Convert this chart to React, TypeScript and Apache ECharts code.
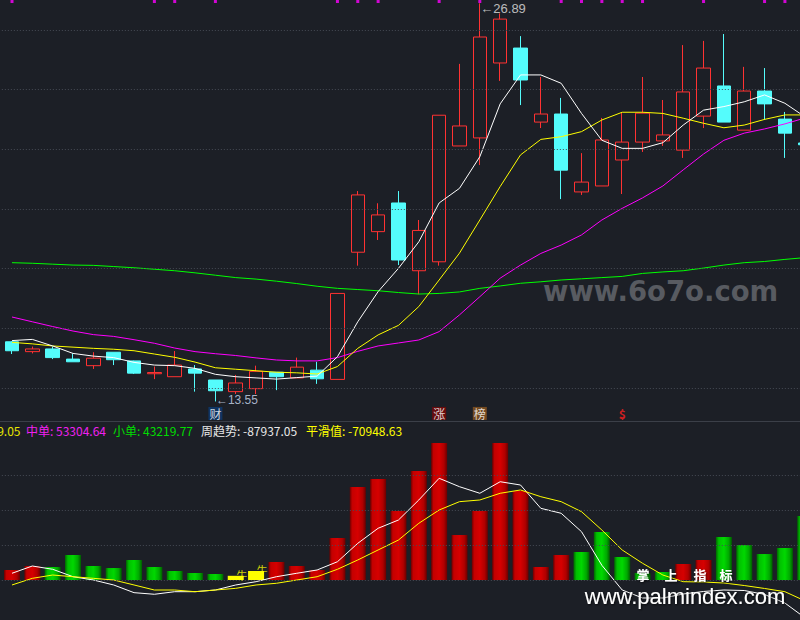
import React, { useEffect, useRef } from 'react';
import * as echarts from 'echarts';

const categories = ['01','02','03','04','05','06','07','08','09','10','11','12','13','14','15','16','17','18','19','20','21','22','23','24','25','26','27','28','29','30','31','32','33','34','35','36','37','38','39','40'];

// [open, close, low, high]
const ohlc = [
  [15.55, 15.25, 15.14, 15.57], [15.22, 15.31, 15.16, 15.39], [15.31, 15.02, 14.97, 15.39], [14.97, 14.88, 14.88, 15.16],
  [14.75, 15.00, 14.64, 15.20], [15.20, 14.95, 14.77, 15.20], [14.91, 14.50, 14.47, 14.92], [14.48, 14.52, 14.30, 14.72],
  [14.38, 14.77, 14.38, 15.24], [14.64, 14.50, 13.88, 14.77], [14.27, 13.91, 13.55, 14.27], [13.88, 14.17, 13.80, 14.44],
  [13.98, 14.56, 13.80, 14.75], [14.53, 14.38, 13.93, 14.53], [14.34, 14.70, 14.34, 15.02], [14.60, 14.31, 14.14, 14.88],
  [14.29, 17.17, 14.29, 17.17], [18.55, 20.47, 18.10, 20.60], [19.24, 19.80, 18.96, 20.19], [20.20, 18.29, 18.12, 20.60],
  [17.93, 19.28, 17.14, 19.63], [18.23, 23.14, 18.10, 23.14], [22.11, 22.78, 22.11, 24.86], [22.38, 25.76, 21.47, 26.89],
  [24.89, 26.36, 24.29, 26.55], [25.39, 24.32, 23.48, 25.79], [22.91, 23.18, 22.71, 24.42], [23.18, 21.30, 20.33, 23.72],
  [20.57, 20.90, 20.47, 21.87], [20.77, 22.31, 20.77, 23.05], [21.64, 22.24, 20.50, 23.25], [22.24, 23.21, 21.91, 24.42],
  [22.28, 22.48, 22.11, 23.65], [21.97, 23.92, 21.71, 25.49], [23.11, 24.72, 22.71, 25.63], [24.12, 22.91, 22.91, 25.86],
  [22.64, 23.95, 22.64, 24.76], [23.95, 23.52, 22.98, 24.72], [23.01, 22.54, 21.71, 23.25], [22.21, 22.15, 22.00, 22.30],
];

const ma5 = [15.59, 15.63, 15.41, 15.16, 15.07, 15.02, 14.86, 14.77, 14.75, 14.66, 14.46, 14.38, 14.34, 14.30, 14.35, 14.40, 15.05, 16.22, 17.23, 18.01, 18.90, 20.20, 20.69, 21.75, 23.52, 24.49, 24.49, 24.21, 23.20, 22.30, 22.03, 22.03, 22.22, 22.81, 23.31, 23.43, 23.59, 23.82, 23.54, 23.08];
const ma10 = [15.53, 15.48, 15.41, 15.37, 15.33, 15.30, 15.25, 15.14, 15.03, 14.87, 14.68, 14.63, 14.58, 14.53, 14.51, 14.47, 14.72, 15.33, 15.78, 16.10, 16.73, 17.62, 18.52, 19.63, 20.75, 21.81, 22.33, 22.42, 22.59, 22.98, 23.24, 23.24, 23.20, 23.04, 22.87, 22.72, 22.81, 23.00, 23.15, 23.15];
const ma20 = [16.38, 16.22, 16.06, 15.91, 15.79, 15.73, 15.62, 15.50, 15.34, 15.22, 15.15, 15.09, 15.01, 14.94, 14.91, 14.91, 15.02, 15.23, 15.41, 15.51, 15.61, 15.89, 16.45, 17.06, 17.68, 18.12, 18.51, 18.79, 19.13, 19.63, 20.02, 20.37, 20.77, 21.31, 21.84, 22.30, 22.54, 22.68, 22.85, 23.05];
const ma60 = [18.20, 18.18, 18.15, 18.12, 18.11, 18.07, 18.03, 17.98, 17.93, 17.86, 17.78, 17.70, 17.65, 17.58, 17.50, 17.41, 17.34, 17.30, 17.26, 17.20, 17.15, 17.17, 17.22, 17.34, 17.42, 17.51, 17.56, 17.62, 17.66, 17.70, 17.74, 17.84, 17.89, 17.93, 18.02, 18.12, 18.20, 18.24, 18.31, 18.37];

// lower panel (unit: 万)
const flowBars = [1.43, 2.0, 1.86, 3.57, 2.0, 1.71, 2.86, 1.86, 1.29, 1.0, 0.86, 0.6, 1.29, 2.57, 2.0, 1.43, 6.0, 13.29, 14.43, 9.86, 15.57, 19.57, 6.43, 9.86, 19.57, 12.71, 1.86, 3.57, 4.0, 6.86, 3.29, 1.0, 1.14, 2.29, 2.86, 6.14, 5.0, 3.71, 4.57, 9.14];
const flowKinds = ['r','r','g','g','g','g','g','g','g','g','g','y','y','r','r','r','r','r','r','r','r','r','r','r','r','r','r','r','g','g','g','g','g','r','r','g','g','g','g','g'];
const weekTrend = [0.96, 2.0, 1.53, 0.47, 0, -0.71, -1.81, -2.04, -1.67, -1.67, -1.43, -0.71, -0.24, 0.47, 0.96, 1.43, 2.61, 5.24, 7.39, 8.57, 11.43, 14.53, 13.33, 12.39, 14.04, 13.57, 10.24, 9.53, 6.90, 2.10, -1.43, -2.57, -2.57, -2.0, -1.64, -1.43, -1.5, -2.07, -3.29, -5.43];
const smoothVal = [-0.71, 0.24, 0.71, 0.47, 0.24, 0, -0.71, -1.43, -1.43, -1.67, -1.43, -1.19, -0.71, -0.47, 0, 0.47, 1.53, 2.86, 4.29, 5.71, 8.1, 10.0, 11.19, 11.43, 12.39, 12.86, 11.9, 11.19, 9.76, 7.14, 4.29, 2.39, 0.71, -0.24, -0.29, -0.43, -0.79, -1.21, -1.67, -3.0];

const topSignalDays = [0, 7, 8, 10, 16, 17, 18, 21, 23, 27, 28, 29, 30, 31, 34, 37, 38];
const priceGridLevels = [14, 16, 18, 20, 22, 24, 26];
const flowGridLevels = [0, 5, 10, 15];
const tagDays = [10, 21, 23, 30];
const tagTexts = ['财', '涨', '榜', '$'];
const tagBgs = ['#0c3a72', '#7a0808', '#8a5520', 'transparent'];
const tagColors = ['#ffffff', '#ffffff', '#ffffff', '#ff2020'];
const tagLevel = 13.15;
const bullDays = [11, 12];
const bullLevels = [0.71, 1.43];
const extremes = [[23, 26.89], [10, 13.55]];

const legendItems = [
  { text: '大单: 64229.05', color: '#e6e600', x: 20.5, align: 'right' },
  { text: '中单: 53304.64', color: '#f020f0', x: 26, align: 'left' },
  { text: '小单: 43219.77', color: '#00dd00', x: 113, align: 'left' },
  { text: '周趋势: -87937.05', color: '#e8e8e8', x: 201, align: 'left' },
  { text: '平滑值: -70948.63', color: '#ffff00', x: 306, align: 'left' },
];

const CJK = '"Noto Sans CJK SC", "Noto Sans", sans-serif';

function grad(stops: [number, string][]) {
  return new echarts.graphic.LinearGradient(0, 0, 1, 0, stops.map(([offset, color]) => ({ offset, color })));
}

export default function App() {
  const ref = useRef<HTMLDivElement>(null);
  useEffect(() => {
    if (!ref.current) return;
    const chart = echarts.init(ref.current, undefined, { renderer: 'svg' });
    const fills: Record<string, any> = {
      r: grad([[0, '#6a0000'], [0.15, '#c40000'], [0.5, '#d60000'], [0.8, '#b00000'], [1, '#6a0000']]),
      g: grad([[0, '#006800'], [0.18, '#00c000'], [0.5, '#00d800'], [0.8, '#00a800'], [1, '#005c00']]),
      y: '#ffff00',
    };
    const dotted = { type: [1, 2] as any, color: '#474b55', width: 1 };
    const xBase = { type: 'category' as const, data: categories, boundaryGap: true, show: false };
    const option: any = {
      animation: false,
      backgroundColor: '#1c1f26',
      grid: [
        { left: 1.83, width: 813.6, top: 0, height: 417.9, outerBoundsMode: 'none', containLabel: false },
        { left: 1.83, width: 813.6, top: 440, height: 210, outerBoundsMode: 'none', containLabel: false },
      ],
      xAxis: [
        { ...xBase, gridIndex: 0 },
        { ...xBase, gridIndex: 1 },
      ],
      yAxis: [
        { type: 'value', gridIndex: 0, min: 13, max: 27, show: false, splitLine: { show: false } },
        { type: 'value', gridIndex: 1, min: -10, max: 20, show: false, splitLine: { show: false } },
      ],
      series: [
        {
          type: 'candlestick', xAxisIndex: 0, yAxisIndex: 0, data: ohlc, barWidth: 14, z: 2,
          itemStyle: { color: 'transparent', color0: '#54fcfc', borderColor: '#ff3232', borderColor0: '#54fcfc', borderWidth: 1 },
          markLine: {
            silent: true, symbol: ['none', 'none'], label: { show: false }, lineStyle: dotted,
            data: priceGridLevels.map((v) => ({ yAxis: v })),
          },
        },
        { type: 'line', xAxisIndex: 0, yAxisIndex: 0, data: ma60, symbol: 'none', z: 3, lineStyle: { color: '#00ff00', width: 1 } },
        { type: 'line', xAxisIndex: 0, yAxisIndex: 0, data: ma20, symbol: 'none', z: 3, lineStyle: { color: '#ff00ff', width: 1 } },
        { type: 'line', xAxisIndex: 0, yAxisIndex: 0, data: ma10, symbol: 'none', z: 3, lineStyle: { color: '#ffff00', width: 1 } },
        { type: 'line', xAxisIndex: 0, yAxisIndex: 0, data: ma5, symbol: 'none', z: 3, lineStyle: { color: '#ffffff', width: 1 } },
        {
          type: 'scatter', xAxisIndex: 0, yAxisIndex: 0, symbol: 'rect', symbolSize: [3, 6], z: 4,
          itemStyle: { color: '#ff00ff' },
          data: topSignalDays.map((d) => [d, 27]),
        },
        {
          type: 'scatter', xAxisIndex: 0, yAxisIndex: 0, symbolSize: 1, z: 5, itemStyle: { color: 'rgba(0,0,0,0)' },
          data: tagDays.map((d, i) => ({
            value: [d, tagLevel],
            label: {
              show: true, position: 'inside', formatter: tagTexts[i], color: tagColors[i],
              backgroundColor: tagBgs[i], padding: [1, 1, 0, 1], fontSize: 12, fontFamily: CJK,
              fontWeight: i === 3 ? 'bold' : 'normal',
            },
          })),
        },
        {
          type: 'scatter', xAxisIndex: 0, yAxisIndex: 0, symbolSize: 1, z: 5, itemStyle: { color: 'rgba(0,0,0,0)' },
          data: extremes.map(([d, v], i) => ({
            value: [d, v],
            label: {
              show: true, position: 'right', distance: 0, offset: i === 0 ? [0, 5] : [0, -1],
              formatter: '←' + v.toFixed(2), color: i === 0 ? '#e4e4e4' : '#cddcf2',
              fontSize: i === 0 ? 13 : 12, fontFamily: '"Liberation Sans", Arial, sans-serif',
            },
          })),
        },
        {
          type: 'bar', xAxisIndex: 1, yAxisIndex: 1, barWidth: 16, z: 2,
          data: flowBars.map((v, i) => ({ value: v, itemStyle: { color: fills[flowKinds[i]] } })),
          markLine: {
            silent: true, symbol: ['none', 'none'], label: { show: false }, lineStyle: dotted,
            data: flowGridLevels.map((v) => ({ yAxis: v })),
          },
        },
        { type: 'line', xAxisIndex: 1, yAxisIndex: 1, data: weekTrend, symbol: 'none', z: 3, lineStyle: { color: '#ffffff', width: 1 } },
        { type: 'line', xAxisIndex: 1, yAxisIndex: 1, data: smoothVal, symbol: 'none', z: 3, lineStyle: { color: '#ffff00', width: 1 } },
        {
          type: 'scatter', xAxisIndex: 1, yAxisIndex: 1, symbolSize: 1, z: 5, itemStyle: { color: 'rgba(0,0,0,0)' },
          data: bullDays.map((d, i) => [d, bullLevels[i]]),
          label: { show: true, position: 'inside', offset: [6, 0], formatter: '牛', color: '#ffff00', fontSize: 11, fontFamily: CJK },
        },
      ],
      graphic: [
        { type: 'line', silent: true, shape: { x1: 0, y1: 421.5, x2: 800, y2: 421.5 }, style: { stroke: '#3b3f48', lineWidth: 1 } },
        ...legendItems.map((it) => ({
          type: 'text', silent: true, x: it.x, y: 430,
          style: { text: it.text, fill: it.color, fontSize: 12, fontFamily: CJK, align: it.align, verticalAlign: 'middle' },
        })),
        {
          type: 'text', silent: true, x: 543, y: 290.5, z: 1,
          style: { text: 'www.6o7o.com', fill: '#585b61', fontSize: 27.5, fontWeight: 'bold', fontFamily: '"DejaVu Sans", sans-serif', verticalAlign: 'middle' },
        },
        ...['掌', '上', '指', '标'].map((ch, i) => ({
          type: 'text', silent: true, x: [643, 671, 700, 726][i], y: 574.5, z: 100,
          style: {
            text: ch, fill: '#ffffff', fontSize: 13, fontWeight: 'bold', fontFamily: CJK, align: 'center', verticalAlign: 'middle',
            textShadowColor: 'rgba(0,0,0,0.7)', textShadowBlur: 2, textShadowOffsetX: 1, textShadowOffsetY: 1,
          },
        })),
        {
          type: 'text', silent: true, x: 685, y: 596, z: 100,
          style: {
            text: 'www.palmindex.com', fill: '#ffffff', fontSize: 22, fontFamily: '"Liberation Sans", Arial, sans-serif', align: 'center', verticalAlign: 'middle',
            textShadowColor: 'rgba(0,0,0,0.7)', textShadowBlur: 2, textShadowOffsetX: 1, textShadowOffsetY: 1,
          },
        },
      ],
    };
    chart.setOption(option);
    return () => chart.dispose();
  }, []);
  return <div ref={ref} style={{ position: 'fixed', left: 0, top: 0, width: 800, height: 620 }} />;
}
